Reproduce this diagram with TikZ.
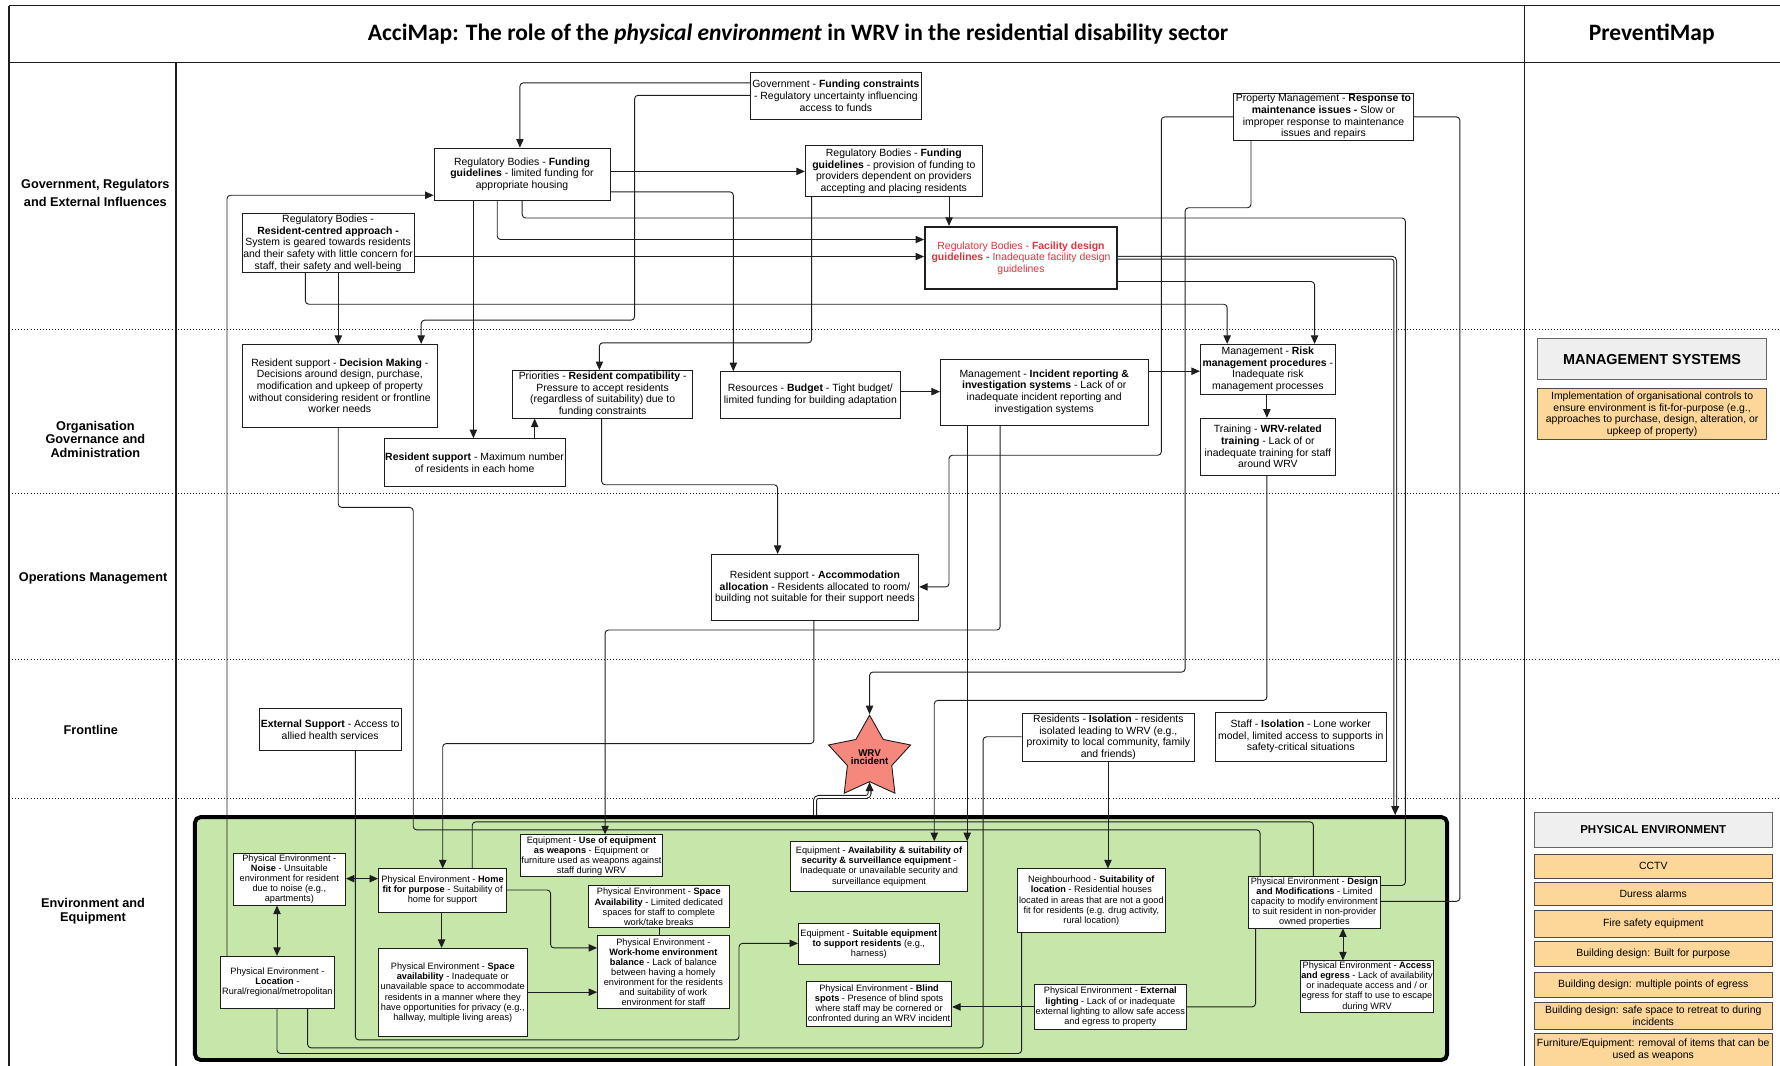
\documentclass[tikz,border=0pt]{standalone}
\usepackage{fontspec}
\setmainfont{Liberation Sans}
\newfontfamily\titlefont{Carlito}
\usetikzlibrary{arrows.meta,shapes.geometric,calc}
\definecolor{envgreen}{RGB}{198,230,170}
\definecolor{ctrlorange}{RGB}{252,215,153}
\definecolor{hdrgray}{RGB}{239,239,239}
\definecolor{regred}{RGB}{222,52,62}
\definecolor{starfill}{RGB}{245,135,125}
\definecolor{ink}{RGB}{30,30,30}
\begin{document}
\begin{tikzpicture}[x=1pt,y=-1pt,
  box/.style={draw=ink, line width=0.7pt, fill=white, align=center, inner sep=1pt,
    anchor=north west, font=\fontsize{9.2}{10.3}\selectfont},
  gbox/.style={box, font=\fontsize{8.1}{8.9}\selectfont},
  ctrl/.style={box, fill=ctrlorange, draw=black!70},
  hdr/.style={box, fill=hdrgray, draw=black!60},
  conn/.style={draw=ink, line width=0.8pt, rounded corners=3pt, -{Triangle[length=7.5pt,width=6.5pt]}},
  link/.style={conn, -},
  twoway/.style={conn, {Triangle[length=7.5pt,width=6.5pt]}-{Triangle[length=7.5pt,width=6.5pt]}},
  thickconn/.style={draw=ink, line width=0.9pt, double=white, double distance=1.6pt,
    rounded corners=3pt, -{Triangle[length=8pt,width=7pt]}},
  level/.style={font=\bfseries\fontsize{11.2}{12.2}\selectfont, align=center},
  lane/.style={draw=ink, line width=0.7pt, dotted},
  frame/.style={draw=ink, line width=1.4pt}
]
\useasboundingbox (0,0) rectangle (1568,939);

% ---------- frame and swimlanes ----------
\draw[frame] (8,5) -- (1568,5);
\draw[frame] (8,55) -- (1568,55);
\draw[frame] (8,5) -- (8,939);
\draw[frame] (1343,5) -- (1343,939);
\draw[frame] (155,55) -- (155,939);
\foreach \yy in {290,435,581,703} \draw[lane] (8,\yy) -- (1568,\yy);

\node[font=\titlefont\bfseries\fontsize{20.7}{24}\selectfont] (title) at (703,30)
  {AcciMap: The role of the \textit{physical environment} in WRV in the residential disability sector};
\node[font=\titlefont\bfseries\fontsize{20.7}{24}\selectfont] (ptitle) at (1455,30) {PreventiMap};

\node[level, font=\bfseries\fontsize{11.2}{16}\selectfont] (lv1) at (84,170) {Government, Regulators\\and External Influences};
\node[level] (lv2) at (84,387) {Organisation\\Governance and\\Administration};
\node[level] (lv3) at (82,509) {Operations Management};
\node[level] (lv4) at (80,643) {Frontline};
\node[level] (lv5) at (82,803) {Environment and\\Equipment};

% ---------- environment and equipment area ----------
\node[draw=black, line width=3.5pt, fill=envgreen, rounded corners=5pt, anchor=north west,
  minimum width=1103pt, minimum height=214pt, inner sep=0pt] (env) at (170,718) {};

% ---------- government, regulators and external influences ----------
\node[box, minimum width=150pt, minimum height=42pt] (gov) at (661,63)
  {Government - \textbf{Funding constraints}\\- Regulatory uncertainty influencing\\access to funds};
\node[box, minimum width=155pt, minimum height=46pt] (rb1) at (382,130)
  {Regulatory Bodies - \textbf{Funding}\\\textbf{guidelines} - limited funding for\\appropriate housing};
\node[box, minimum width=156pt, minimum height=45pt] (rb2) at (709,128)
  {Regulatory Bodies - \textbf{Funding}\\\textbf{guidelines} - provision of funding to\\providers dependent on providers\\accepting and placing residents};
\node[box, minimum width=151pt, minimum height=51pt] (rbr) at (213,188)
  {Regulatory Bodies -\\\textbf{Resident-centred approach -}\\System is geared towards residents\\and their safety with little concern for\\staff, their safety and well-being};
\node[box, line width=1.8pt, text=regred, minimum width=169pt, minimum height=55pt] (rbf) at (814,199)
  {Regulatory Bodies - \textbf{Facility design}\\\textbf{guidelines -} Inadequate facility design\\guidelines};
\node[box, minimum width=159pt, minimum height=41pt] (pm) at (1086,82)
  {Property Management - \textbf{Response to}\\\textbf{maintenance issues -} Slow or\\improper response to maintenance\\issues and repairs};

% ---------- organisation governance and administration ----------
\node[box, minimum width=172pt, minimum height=73pt] (dm) at (213,303)
  {Resident support - \textbf{Decision Making} -\\Decisions around design, purchase,\\modification and upkeep of property\\without considering resident or frontline\\worker needs};
\node[box, minimum width=159pt, minimum height=42pt] (rc) at (451,326)
  {Priorities - \textbf{Resident compatibility} -\\Pressure to accept residents\\(regardless of suitability) due to\\funding constraints};
\node[box, minimum width=159pt, minimum height=41pt] (bud) at (634,327)
  {Resources - \textbf{Budget} - Tight budget/\\limited funding for building adaptation};
\node[box, minimum width=183pt, minimum height=58pt] (ir) at (828,316)
  {Management - \textbf{Incident reporting \&}\\\textbf{investigation systems} - Lack of or\\inadequate incident reporting and\\investigation systems};
\node[box, minimum width=119pt, minimum height=44pt] (rm) at (1057,303)
  {Management - \textbf{Risk}\\\textbf{management procedures} -\\Inadequate risk\\management processes};
\node[box, minimum width=119pt, minimum height=50pt] (tr) at (1057,368)
  {Training - \textbf{WRV-related}\\\textbf{training} - Lack of or\\inadequate training for staff\\around WRV};
\node[box, minimum width=158pt, minimum height=42pt] (max) at (338,386)
  {\textbf{Resident support} - Maximum number\\of residents in each home};

% ---------- operations management ----------
\node[box, minimum width=183pt, minimum height=58pt] (aa) at (626,488)
  {Resident support - \textbf{Accommodation}\\\textbf{allocation} - Residents allocated to room/\\building not suitable for their support needs};

% ---------- frontline ----------
\node[box, minimum width=125pt, minimum height=37pt] (es) at (228,624)
  {\textbf{External Support} - Access to\\allied health services};
\node[box, minimum width=152pt, minimum height=42pt] (ri) at (900,628)
  {Residents - \textbf{Isolation} - residents\\isolated leading to WRV (e.g.,\\proximity to local community, family\\and friends)};
\node[box, minimum width=151pt, minimum height=43pt] (si) at (1070,627)
  {Staff - \textbf{Isolation} - Lone worker\\model, limited access to supports in\\safety-critical situations};
\node[star, star points=5, star point ratio=1.85, minimum size=76pt, inner sep=0pt,
  draw=ink, line width=0.8pt, fill=starfill] (star) at (766,668) {};
\node[font=\bfseries\fontsize{8.6}{7.8}\selectfont, align=center] (starlbl) at (766,667) {WRV\\incident};

% ---------- environment and equipment ----------
\node[gbox, minimum width=99pt, minimum height=46pt] (no) at (205,751)
  {Physical Environment -\\\textbf{Noise} - Unsuitable\\environment for resident\\due to noise (e.g.,\\apartments)};
\node[gbox, minimum width=113pt, minimum height=38pt] (hf) at (333,765)
  {Physical Environment - \textbf{Home}\\\textbf{fit for purpose} - Suitability of\\home for support};
\node[gbox, minimum width=124pt, minimum height=37pt] (uw) at (458,735)
  {Equipment - \textbf{Use of equipment}\\\textbf{as weapons} - Equipment or\\furniture used as weapons against\\staff during WRV};
\node[gbox, minimum width=124pt, minimum height=37pt] (sa1) at (518,780)
  {Physical Environment - \textbf{Space}\\\textbf{Availability} - Limited dedicated\\spaces for staff to complete\\work/take breaks};
\node[gbox, minimum width=116pt, minimum height=64pt] (wh) at (526,824)
  {Physical Environment -\\\textbf{Work-home environment}\\\textbf{balance} - Lack of balance\\between having a homely\\environment for the residents\\and suitability of work\\environment for staff};
\node[gbox, minimum width=131pt, minimum height=78pt] (sa2) at (333,835)
  {Physical Environment - \textbf{Space}\\\textbf{availability} - Inadequate or\\unavailable space to accommodate\\residents in a manner where they\\have opportunities for privacy (e.g.,\\hallway, multiple living areas)};
\node[gbox, minimum width=100pt, minimum height=46pt] (lo) at (194,842)
  {Physical Environment -\\\textbf{Location} -\\Rural/regional/metropolitan};
\node[gbox, minimum width=156pt, minimum height=44pt] (av) at (696,741)
  {Equipment - \textbf{Availability \& suitability of}\\\textbf{security \& surveillance equipment} -\\Inadequate or unavailable security and\\surveillance equipment};
\node[gbox, minimum width=124pt, minimum height=36pt] (se) at (703,813)
  {Equipment - \textbf{Suitable equipment}\\\textbf{to support residents} (e.g.,\\harness)};
\node[gbox, minimum width=128pt, minimum height=40pt] (bs) at (710,864)
  {Physical Environment - \textbf{Blind}\\\textbf{spots} - Presence of blind spots\\where staff may be cornered or\\confronted during an WRV incident};
\node[gbox, minimum width=130pt, minimum height=56pt] (nb) at (896,765)
  {Neighbourhood - \textbf{Suitability of}\\\textbf{location} - Residential houses\\located in areas that are not a good\\fit for residents (e.g. drug activity,\\rural location)};
\node[gbox, minimum width=133pt, minimum height=39pt] (el) at (911,867)
  {Physical Environment - \textbf{External}\\\textbf{lighting} - Lack of or inadequate\\external lighting to allow safe access\\and egress to property};
\node[gbox, minimum width=117pt, minimum height=45pt] (dmo) at (1099,772)
  {Physical Environment - \textbf{Design}\\\textbf{and Modifications} - Limited\\capacity to modify environment\\to suit resident in non-provider\\owned properties};
\node[gbox, minimum width=117pt, minimum height=44pt] (ae) at (1145,846)
  {Physical Environment - \textbf{Access}\\\textbf{and egress} - Lack of availability\\or inadequate access and / or\\egress for staff to use to escape\\during WRV};

% ---------- PreventiMap column ----------
\node[hdr, font=\bfseries\fontsize{12.7}{14}\selectfont, minimum width=202pt, minimum height=36pt] (ms) at (1354,298)
  {MANAGEMENT SYSTEMS};
\node[ctrl, minimum width=202pt, minimum height=45pt] (msc) at (1354,342)
  {Implementation of organisational controls to\\ensure environment is fit-for-purpose (e.g.,\\approaches to purchase, design, alteration, or\\upkeep of property)};
\node[hdr, font=\bfseries\fontsize{10.1}{12}\selectfont, minimum width=210pt, minimum height=31pt] (pe) at (1351,715)
  {PHYSICAL ENVIRONMENT};
\node[ctrl, minimum width=210pt, minimum height=21pt] (c1) at (1351,752) {CCTV};
\node[ctrl, minimum width=210pt, minimum height=20pt] (c2) at (1351,777) {Duress alarms};
\node[ctrl, minimum width=210pt, minimum height=23pt] (c3) at (1351,802) {Fire safety equipment};
\node[ctrl, minimum width=210pt, minimum height=22pt] (c4) at (1351,829) {Building design: Built for purpose};
\node[ctrl, minimum width=210pt, minimum height=22pt] (c5) at (1351,856) {Building design: multiple points of egress};
\node[ctrl, minimum width=210pt, minimum height=23pt] (c6) at (1351,883) {Building design: safe space to retreat to during\\incidents};
\node[ctrl, minimum width=210pt, minimum height=29pt] (c7) at (1351,910) {Furniture/Equipment: removal of items that can be\\used as weapons};

% ---------- connectors ----------
\draw[conn] (gov.west |- 0,73) -| (rb1.north -| 458,0);
\draw[conn] (gov.west |- 0,84) -| (559,282) -| (dm.north -| 371,0);
\draw[conn] (rb1.east |- 0,151) -- (rb2.west |- 0,151);
\draw[conn] (rb1.east |- 0,169) -| (bud.north -| 646,0);
\draw[conn] (rb1.south -| 417,0) -- (max.north -| 417,0);
\draw[conn] (rb1.south -| 438,0) |- (rbf.west |- 0,211);
\draw[link] (rb1.south -| 460,0) |- (1238,192) |- (dmo.east |- 0,780);
\draw[conn] (rbr.south -| 269,0) |- (1081,268) -- (rm.north -| 1081,0);
\draw[conn] (rbr.south -| 298,0) -- (dm.north -| 298,0);
\draw[conn] (rbr.east |- 0,226) -- (rbf.west |- 0,226);
\draw[conn] (rb2.south -| 836,0) -- (rbf.north -| 836,0);
\draw[conn] (rb2.south -| 715,0) |- (528,302) -- (rc.north -| 528,0);
\draw[thickconn] (rbf.east |- 0,227) -| (env.north -| 1229,0);
\draw[conn] (rbf.east |- 0,248) -| (rm.north -| 1158,0);
\draw[conn] (pm.west |- 0,103) -| (1023,401) -| (836,517) -- (aa.east |- 0,517);
\draw[conn] (pm.south -| 1102,0) |- (1044,183) |- (766,592) -- (star.north);
\draw[link] (pm.east |- 0,103) -| (1286,794) -- (dmo.east |- 0,794);
\draw[conn] (bud.east |- 0,345) -- (ir.west |- 0,345);
\draw[conn] (ir.east |- 0,327) -- (rm.west |- 0,327);
\draw[conn] (rm.south -| 1116,0) -- (tr.north -| 1116,0);
\draw[conn] (tr.south -| 1116,0) |- (823,617) -- (av.north -| 823,0);
\draw[conn] (ir.south -| 852,0) -- (av.north -| 852,0);
\draw[conn] (ir.south -| 881,0) |- (533,555) -- (uw.north -| 533,0);
\draw[conn] (max.north -| 471,0) -- (rc.south -| 471,0);
\draw[conn] (rc.south -| 530,0) |- (685,427) -- (aa.north -| 685,0);
\draw[conn] (aa.south -| 717,0) |- (390,655) -- (hf.north -| 390,0);
\draw[link] (dm.south -| 298,0) |- (364,447) |- (1110,731) -- (dmo.north -| 1110,0);
\draw[conn] (lo.north -| 200,0) |- (rb1.west |- 0,172);
\draw[conn] (es.south -| 313,0) |- (651,916) |- (se.west |- 0,831);
\draw[link] (hf.north -| 416,0) |- (1157,724) -- (dmo.north -| 1157,0);
\draw[conn] (hf.east |- 0,784) -| (485,835) -- (wh.west |- 0,835);
\draw[conn] (hf.south -| 389,0) -- (sa2.north -| 389,0);
\draw[conn] (sa2.east |- 0,874) -- (wh.west |- 0,874);
\draw[link] (sa1.south -| 581,0) -- (wh.north -| 581,0);
\draw[twoway] (no.east |- 0,774) -- (hf.west |- 0,774);
\draw[twoway] (no.south -| 244,0) -- (lo.north -| 244,0);
\draw[link] (lo.south -| 271,0) |- (866,923) |- (ri.west |- 0,649);
\draw[link] (lo.south -| 244,0) |- (900,928) -- (nb.south -| 900,0);
\draw[conn] (ri.south -| 976,0) -- (nb.north -| 976,0);
\draw[conn] (el.west |- 0,887) -- (bs.east |- 0,887);
\draw[link] (el.east |- 0,887) -| (dmo.south -| 1106,0);
\draw[twoway] (dmo.south -| 1183,0) -- (ae.north -| 1183,0);
\draw[thickconn] (env.north -| 718,0) |- (star.south |- 0,702) -- (star.south);
\end{tikzpicture}
\end{document}
